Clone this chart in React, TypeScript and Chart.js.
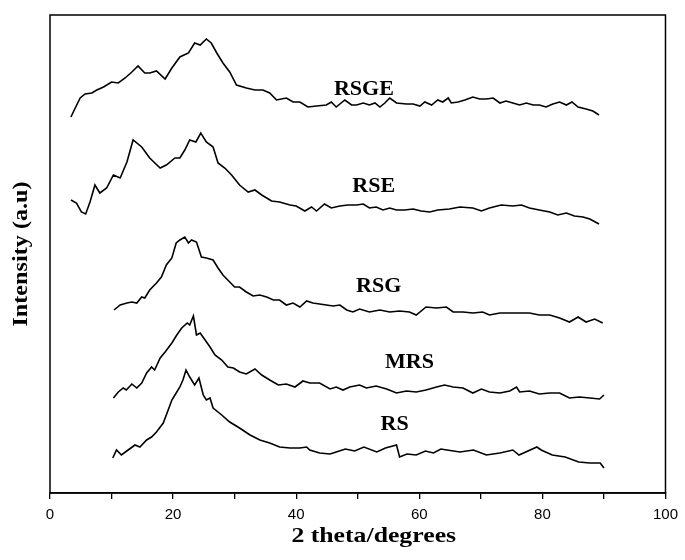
import React, { useEffect, useRef } from "react";
import { Chart, registerables } from "chart.js";

Chart.register(...registerables);

// x tick values (every 10 degrees; labels every 20)
const xTickValues = [0, 10, 20, 30, 40, 50, 60, 70, 80, 90, 100];
const xTickLabels = ["0", "", "20", "", "40", "", "60", "", "80", "", "100"];

const seriesNames = ["RSGE", "RSE", "RSG", "MRS", "RS"];

// [2theta, intensity (offset, a.u.)]
const rsge = [
  [3.4, 376], [4.1, 385], [4.9, 395], [5.7, 399], [6.8, 400], [7.6, 403], [8.7, 406], [10.0, 411],
  [11.1, 410], [12.2, 415], [13.3, 421], [14.3, 427], [15.4, 420], [16.2, 420], [17.3, 422], [18.7, 414],
  [19.8, 425], [21.1, 436], [22.5, 440], [23.5, 450], [24.4, 448], [25.4, 454], [26.2, 450], [27.1, 440],
  [28.1, 430], [29.2, 421], [30.3, 408], [31.9, 405], [33.3, 403], [34.6, 403], [35.7, 400], [36.8, 393],
  [38.4, 395], [39.5, 391], [40.6, 391], [41.9, 386], [43.3, 387], [44.9, 388], [45.7, 391], [46.5, 386],
  [47.9, 393], [49.0, 388], [49.8, 388], [50.9, 390], [51.9, 388], [52.8, 390], [53.6, 386], [54.4, 390],
  [55.2, 395], [56.3, 390], [57.9, 389], [59.0, 389], [60.1, 387], [60.9, 391], [62.0, 388], [63.0, 393],
  [63.8, 391], [64.7, 395], [65.2, 390], [66.3, 391], [67.4, 393], [68.7, 396], [69.8, 394], [70.9, 394],
  [72.0, 395], [73.1, 390], [74.1, 392], [75.2, 390], [76.3, 388], [77.4, 390], [78.5, 388], [79.5, 388],
  [80.6, 386], [81.7, 389], [82.8, 391], [83.9, 388], [84.8, 391], [85.8, 386], [87.1, 384], [88.2, 382],
  [89.2, 378],
];

const rse = [
  [3.4, 293], [4.3, 290], [5.1, 281], [5.8, 279], [6.5, 291], [7.3, 308], [8.1, 300], [9.2, 305],
  [10.3, 318], [11.4, 315], [12.5, 331], [13.5, 353], [14.9, 346], [16.2, 335], [17.9, 325], [18.9, 328],
  [20.3, 335], [21.1, 335], [21.9, 343], [22.7, 353], [23.7, 351], [24.5, 360], [25.4, 351], [26.5, 346],
  [27.3, 330], [28.4, 325], [29.5, 318], [30.8, 308], [32.2, 301], [33.3, 303], [34.4, 298], [36.0, 292],
  [37.3, 291], [39.0, 288], [40.0, 287], [41.4, 282], [42.5, 286], [43.3, 282], [44.6, 289], [45.7, 285],
  [47.1, 287], [48.4, 288], [49.8, 288], [50.9, 289], [51.9, 285], [53.0, 286], [54.1, 283], [55.2, 285],
  [56.3, 283], [57.6, 283], [59.0, 284], [60.3, 282], [61.7, 281], [63.0, 283], [64.9, 284], [66.6, 286],
  [68.7, 285], [70.1, 282], [71.4, 285], [73.3, 288], [75.2, 287], [76.6, 288], [77.9, 285], [79.5, 283],
  [81.2, 281], [82.5, 278], [83.9, 280], [85.2, 277], [86.6, 276], [87.7, 274], [89.2, 269],
];

const rsg = [
  [10.4, 183], [11.4, 188], [12.5, 190], [13.3, 191], [14.1, 190], [14.9, 196], [15.4, 195], [16.2, 203],
  [17.3, 210], [18.1, 216], [18.9, 228], [19.8, 235], [20.5, 250], [21.1, 253], [21.9, 256], [22.5, 250],
  [23.0, 253], [23.8, 251], [24.6, 236], [25.4, 235], [26.5, 233], [27.3, 225], [28.1, 218], [29.2, 211],
  [30.0, 206], [30.8, 206], [31.9, 201], [33.0, 197], [34.1, 198], [35.2, 196], [36.3, 193], [37.3, 193],
  [38.4, 188], [39.5, 190], [40.6, 186], [41.7, 192], [42.7, 190], [43.8, 189], [44.9, 188], [46.0, 187],
  [47.1, 188], [48.2, 183], [49.2, 181], [50.3, 184], [51.9, 181], [53.6, 183], [55.2, 181], [56.8, 182],
  [58.4, 181], [59.5, 178], [61.1, 186], [62.8, 185], [64.4, 186], [65.5, 181], [67.1, 181], [68.7, 180],
  [70.3, 181], [71.4, 178], [73.1, 180], [74.7, 180], [76.3, 180], [77.9, 180], [79.5, 178], [81.2, 178],
  [82.8, 175], [84.4, 171], [85.8, 176], [87.1, 171], [88.5, 174], [89.8, 170],
];

const mrs = [
  [10.3, 95], [11.1, 101], [11.9, 105], [12.4, 103], [13.3, 109], [14.1, 105], [14.9, 110], [15.7, 120],
  [16.5, 126], [17.0, 123], [17.9, 135], [18.7, 141], [19.8, 150], [20.6, 158], [21.4, 165], [22.3, 170],
  [22.7, 168], [23.3, 177], [23.8, 158], [24.4, 160], [25.2, 153], [26.0, 146], [26.8, 138], [27.9, 133],
  [28.9, 126], [29.8, 125], [30.8, 121], [31.9, 119], [33.3, 124], [34.4, 118], [35.7, 113], [37.1, 108],
  [38.4, 109], [39.8, 106], [41.1, 112], [42.2, 110], [43.8, 110], [45.5, 104], [46.5, 106], [47.6, 103],
  [48.7, 106], [50.3, 108], [51.4, 105], [53.0, 107], [54.7, 104], [56.3, 100], [57.9, 102], [59.5, 101],
  [61.1, 103], [62.8, 106], [64.1, 108], [65.5, 106], [67.1, 105], [68.7, 100], [70.1, 104], [71.4, 101],
  [73.1, 100], [74.7, 102], [75.8, 106], [76.3, 101], [77.9, 102], [79.5, 99], [81.2, 100], [82.8, 100],
  [84.4, 95], [86.0, 96], [87.7, 95], [89.3, 94], [90.0, 98],
];

const rs = [
  [10.2, 35], [10.8, 43], [11.6, 38], [12.7, 43], [13.8, 48], [14.6, 46], [15.7, 53], [16.5, 56],
  [17.3, 61], [18.4, 70], [19.2, 83], [19.8, 93], [20.4, 99], [21.1, 106], [21.6, 113], [22.1, 123],
  [22.7, 116], [23.5, 108], [24.2, 115], [24.9, 98], [25.4, 93], [26.0, 95], [26.5, 85], [27.9, 78],
  [29.2, 71], [30.8, 65], [32.5, 58], [34.1, 53], [35.7, 50], [37.3, 46], [39.0, 45], [40.6, 45],
  [41.7, 46], [42.2, 43], [43.8, 40], [45.5, 39], [46.5, 41], [48.0, 44], [49.5, 42], [51.0, 46],
  [53.1, 41], [54.5, 45], [56.3, 48], [56.8, 36], [58.0, 39], [59.5, 38], [61.0, 42], [62.3, 40],
  [63.5, 44], [64.5, 43], [66.6, 41], [68.8, 43], [70.9, 38], [73.1, 40], [75.2, 43], [76.2, 38],
  [77.3, 41], [79.1, 46], [79.8, 43], [81.6, 38], [83.7, 36], [85.9, 31], [87.7, 30], [89.4, 30],
  [90.0, 25],
];

const seriesData = [rsge, rse, rsg, mrs, rs];

// label anchor positions in data units [2theta, intensity]
const labelAnchors = [[51.0, 403], [52.6, 306], [53.4, 206], [58.4, 130], [56.0, 68]];

const xTitle = "2 theta/degrees";
const yTitle = "Intensity (a.u)";

const serif = '"Liberation Serif", "Times New Roman", serif';

function stretchedText(ctx: any, text: string, x: number, y: number, sx: number, rot = 0) {
  ctx.save();
  ctx.translate(x, y);
  if (rot) ctx.rotate(rot);
  ctx.scale(sx, 1);
  ctx.fillText(text, 0, 0);
  ctx.restore();
}

const overlayPlugin = {
  id: "overlay",
  afterDraw(chart: any) {
    const { ctx, chartArea: a, scales } = chart;
    const xs = scales.x;
    const ys = scales.y;
    ctx.save();
    ctx.strokeStyle = "#000";
    ctx.lineWidth = 1.5;
    ctx.strokeRect(a.left, a.top, a.right - a.left, a.bottom - a.top);
    ctx.fillStyle = "#000";
    ctx.textAlign = "center";
    ctx.textBaseline = "middle";
    ctx.font = `bold 21px ${serif}`;
    seriesNames.forEach((n, i) => {
      stretchedText(ctx, n, xs.getPixelForValue(labelAnchors[i][0]), ys.getPixelForValue(labelAnchors[i][1]), 1.05);
    });
    ctx.font = `bold 22px ${serif}`;
    stretchedText(ctx, xTitle, a.left + (a.right - a.left) * 0.526, a.bottom + 43, 1.17);
    stretchedText(ctx, yTitle, 21, (a.top + a.bottom) / 2, 1.1, -Math.PI / 2);
    ctx.restore();
  },
};

export default function App() {
  const ref = useRef<HTMLCanvasElement | null>(null);
  useEffect(() => {
    if (!ref.current) return;
    const chart = new Chart(ref.current, {
      type: "scatter",
      data: {
        datasets: seriesData.map((d, i) => ({
          label: seriesNames[i],
          data: d.map(([x, y]) => ({ x, y })),
          showLine: true,
          borderColor: "#000",
          borderWidth: 1.6,
          pointRadius: 0,
          tension: 0,
          fill: false,
        })),
      },
      options: {
        animation: false,
        responsive: true,
        maintainAspectRatio: false,
        layout: { padding: { left: 50, right: 19, top: 15, bottom: 0 } },
        plugins: { legend: { display: false }, tooltip: { enabled: false } },
        scales: {
          x: {
            type: "linear",
            min: 0,
            max: 100,
            afterBuildTicks: (s: any) => {
              s.ticks = xTickValues.map((v) => ({ value: v }));
            },
            afterFit: (s: any) => {
              s.height = 67;
            },
            grid: {
              drawOnChartArea: false,
              drawTicks: true,
              tickLength: 6,
              color: "#000",
              lineWidth: 1.3,
            },
            border: { display: true, color: "#000", width: 1.5 },
            ticks: {
              autoSkip: false,
              maxRotation: 0,
              padding: 7,
              color: "#000",
              font: { family: '"Liberation Sans", Arial, sans-serif', size: 15 },
              callback: (_v: any, i: number) => xTickLabels[i],
            },
          },
          y: {
            type: "linear",
            min: 0,
            max: 478,
            display: false,
          },
        },
      },
      plugins: [overlayPlugin],
    });
    return () => chart.destroy();
  }, []);
  return (
    <div style={{ position: "absolute", left: 0, top: 0, width: 685, height: 560, background: "#fff" }}>
      <canvas ref={ref} />
    </div>
  );
}
